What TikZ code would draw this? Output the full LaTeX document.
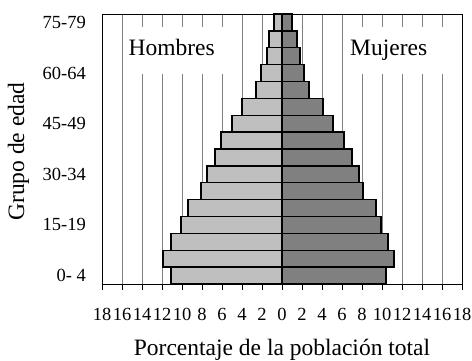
\documentclass[tikz,border=0pt]{standalone}
\usepackage{fontspec}
\setmainfont{Liberation Serif}
\tikzset{
  gridline/.style={draw=black!50, line width=0.7pt},
  frameline/.style={draw=black, line width=0.9pt},
  malebar/.style={draw=black, line width=1.4pt, fill=black!25},
  femalebar/.style={draw=black, line width=1.4pt, fill=black!50},
  bigtext/.style={font=\fontsize{23.5}{28}\selectfont, inner sep=0pt},
  smalltext/.style={font=\fontsize{18.5}{22}\selectfont, inner sep=0pt},
  labelbox/.style={fill=white, draw=none}
}
\begin{document}
\begin{tikzpicture}[x=1pt,y=-1pt]
\useasboundingbox (0,0) rectangle (472,360);
% grid
\foreach \k in {1,...,17} {
  \draw[gridline] ({102+20*\k},14) -- ({102+20*\k},284);
}
% label boxes
\fill[labelbox] (123,27) rectangle (241,74);
\fill[labelbox] (343,27) rectangle (461,74);
\node[bigtext, anchor=base] (hom) at (171.7,55) {Hombres};
\node[bigtext, anchor=base] (muj) at (388.7,55) {Mujeres};
% bars
\foreach \m/\f [count=\i from 0] in {11.1/10.4, 11.9/11.2, 11.1/10.6, 10.1/9.9, 9.4/9.4, 8.1/8.1, 7.5/7.7, 6.7/7.0, 6.1/6.2, 5.0/5.1, 4.0/4.1, 2.6/2.7, 2.1/2.2, 1.5/1.8, 1.3/1.5, 0.8/1.0} {
  \draw[malebar] ({282-10*\m},{284-\i*16.875}) rectangle (282,{284-(\i+1)*16.875});
  \draw[femalebar] (282,{284-\i*16.875}) rectangle ({282+10*\f},{284-(\i+1)*16.875});
}
% frame
\draw[frameline] (102,284) -- (102,14) -- (462,14) -- (462,284);
\draw[frameline] (102,284) -- (462,284);
% ticks and tick labels
\foreach \k in {0,...,18} {
  \draw[frameline] ({102+20*\k},284) -- ({102+20*\k},290);
  \pgfmathtruncatemacro\lab{abs(18-2*\k)}
  \node[smalltext] (t\k) at ({102+20*\k},314) {\lab};
}
% age labels
\foreach \lab [count=\j from 0] in {0- 4,15-19,30-34,45-49,60-64,75-79} {
  \node[smalltext, anchor=east] (a\j) at (86,{284-(3*\j+0.5)*16.875}) {\lab};
}
% axis titles
\node[bigtext, anchor=base] (xt) at (282,355) {Porcentaje de la población total};
\node[bigtext, rotate=90] (yt) at (18.5,151.5) {Grupo de edad};
\end{tikzpicture}
\end{document}
